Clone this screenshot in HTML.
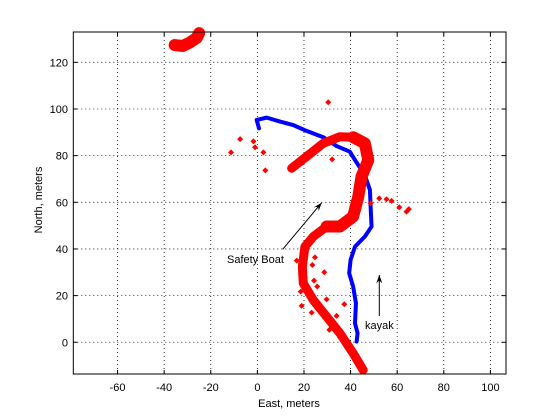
<!DOCTYPE html>
<html><head><meta charset="utf-8"><style>
html,body{margin:0;padding:0;background:#fff;}
svg{display:block;font-family:"Liberation Sans",sans-serif;}
</style></head><body>
<svg id="chart" width="560" height="420">
<rect x="0" y="0" width="560" height="420" fill="#fff"/>
<g id="grid"></g>
<g id="marks"></g>
<rect x="73.3" y="32" width="432.7" height="342" fill="none" stroke="#000" stroke-width="1"/>
<g id="ticks"></g>
<text x="289" y="407" font-size="11" text-anchor="middle">East, meters</text>
<text x="0" y="0" font-size="11" text-anchor="middle" transform="translate(42,200) rotate(-90)">North, meters</text>
<text x="227" y="263" font-size="11">Safety Boat</text>
<text x="365" y="329" font-size="11">kayak</text>
</svg>
<script>
const xTicks=[-60,-40,-20,0,20,40,60,80,100];
const yTicks=[0,20,40,60,80,100,120];
const blueE=[0.7,-0.3,4,9.7,15.4,21.1,28.3,34,39.7,41.9,46.1,48.3,48.6,49,46.1,41.9,40,39.4,41.1,42.3,41.9,43,42.6];
const blueN=[91.7,95.3,96.3,94.6,93.1,90.6,87.9,84.1,81.7,78.1,71.7,65.3,58.1,49.6,45.3,41,35.3,29.6,23.9,16.7,8.1,3.9,0.3];
const redE=[14.7,21.1,28.3,35.4,41.1,46.1,47.6,44.7,43.3,41.1,35.4,29.7,24,20.4,19.3,19.7,24,29.7,35.4,41.1,45.4];
const redN=[74.6,79.6,85.3,88.1,87.9,85.3,78.1,71,62.4,53.9,49.6,49.6,45.3,41,32.4,25.3,18.1,11,3.9,-4.7,-11.9];
const blobE=[-35.5,-32,-29,-26,-25];
const blobN=[127.4,127,128.5,130.5,132.5];
const dotE=[30.4,-7.4,-1.7,-1,-11.3,2.6,3.4,32.1,52.3,55.4,57.6,60.9,64,65,48.6,16.9,24.7,23.6,28.7,24.3,25.7,18.6,29.7,37.3,19,23.3,34,30.9];
const dotN=[102.9,87.1,86.1,83.6,81.4,81.4,73.7,78.4,61.7,61.3,60.6,57.9,56,57.1,59.6,35,36.4,33.1,30,26.4,23.9,21.7,18.4,16.3,15.6,12.7,11.3,5.3];
const X0=73.3,X1=506,Y0=32,Y1=374,xmin=-79,xmax=106.7,ymin=-13.6,ymax=133;
const sx=v=>X0+(v-xmin)/(xmax-xmin)*(X1-X0);
const sy=v=>Y1-(v-ymin)/(ymax-ymin)*(Y1-Y0);
const NS='http://www.w3.org/2000/svg';
function mk(t,a,p){const e=document.createElementNS(NS,t);for(const k in a)e.setAttribute(k,a[k]);p.appendChild(e);return e;}
const grid=document.getElementById('grid'),ticks=document.getElementById('ticks'),marks=document.getElementById('marks');
xTicks.forEach(v=>{const x=sx(v);
const g=mk('line',{x1:x,x2:x,y1:Y0,y2:Y1,stroke:'#000','stroke-width':0.8,'stroke-dasharray':'1,3'},grid);


mk('line',{x1:x,x2:x,y1:Y1,y2:Y1-4,stroke:'#000'},ticks);
mk('line',{x1:x,x2:x,y1:Y0,y2:Y0+4,stroke:'#000'},ticks);
const t=mk('text',{x:x,y:391,'font-size':11,'text-anchor':'middle'},ticks);t.textContent=v;

});
yTicks.forEach(v=>{const y=sy(v);
const g=mk('line',{x1:X0,x2:X1,y1:y,y2:y,stroke:'#000','stroke-width':0.8,'stroke-dasharray':'1,3'},grid);


mk('line',{x1:X0,x2:X0+4,y1:y,y2:y,stroke:'#000'},ticks);
mk('line',{x1:X1,x2:X1-4,y1:y,y2:y,stroke:'#000'},ticks);
const t=mk('text',{x:68,y:y+4,'font-size':11,'text-anchor':'end'},ticks);t.textContent=v;

});
function pts(E,N){return E.map((e,i)=>sx(e)+','+sy(N[i])).join(' ');}
const bu=mk('polyline',{points:pts(blueE,blueN),fill:'none',stroke:'#00f','stroke-width':4,'stroke-linejoin':'round','stroke-linecap':'round'},marks);


const bl=mk('polyline',{points:pts(blobE,blobN),fill:'none',stroke:'#f00','stroke-width':12,'stroke-linejoin':'round','stroke-linecap':'round'},marks);


const rl=mk('polyline',{points:pts(redE,redN),fill:'none',stroke:'#f00','stroke-width':9,'stroke-linejoin':'round','stroke-linecap':'round'},marks);


const rm=mk('polyline',{points:pts(redE.slice(4,12),redN.slice(4,12)),fill:'none',stroke:'#f00','stroke-width':12,'stroke-linejoin':'round','stroke-linecap':'round'},marks);


dotE.forEach((e,i)=>{const x=sx(e),y=sy(dotN[i]);
const d=mk('polygon',{points:`${x},${y-3} ${x+3},${y} ${x},${y+3} ${x-3},${y}`,fill:'#f00'},marks);

});
function arrow(x1,y1,x2,y2,name){const g=mk('g',{},marks);


mk('line',{x1:x1,y1:y1,x2:x2,y2:y2,stroke:'#000','stroke-width':1},g);
const a=Math.atan2(y2-y1,x2-x1),L=9,w=0.35;
mk('polygon',{points:`${x2},${y2} ${x2-L*Math.cos(a-w)},${y2-L*Math.sin(a-w)} ${x2-L*0.6*Math.cos(a)},${y2-L*0.6*Math.sin(a)} ${x2-L*Math.cos(a+w)},${y2-L*Math.sin(a+w)}`,fill:'#000'},g);}
arrow(282.7,249.3,321.7,202.7,'safety-boat-arrow');
arrow(379.3,316,379.3,275,'kayak-arrow');
</script>
</body></html>
